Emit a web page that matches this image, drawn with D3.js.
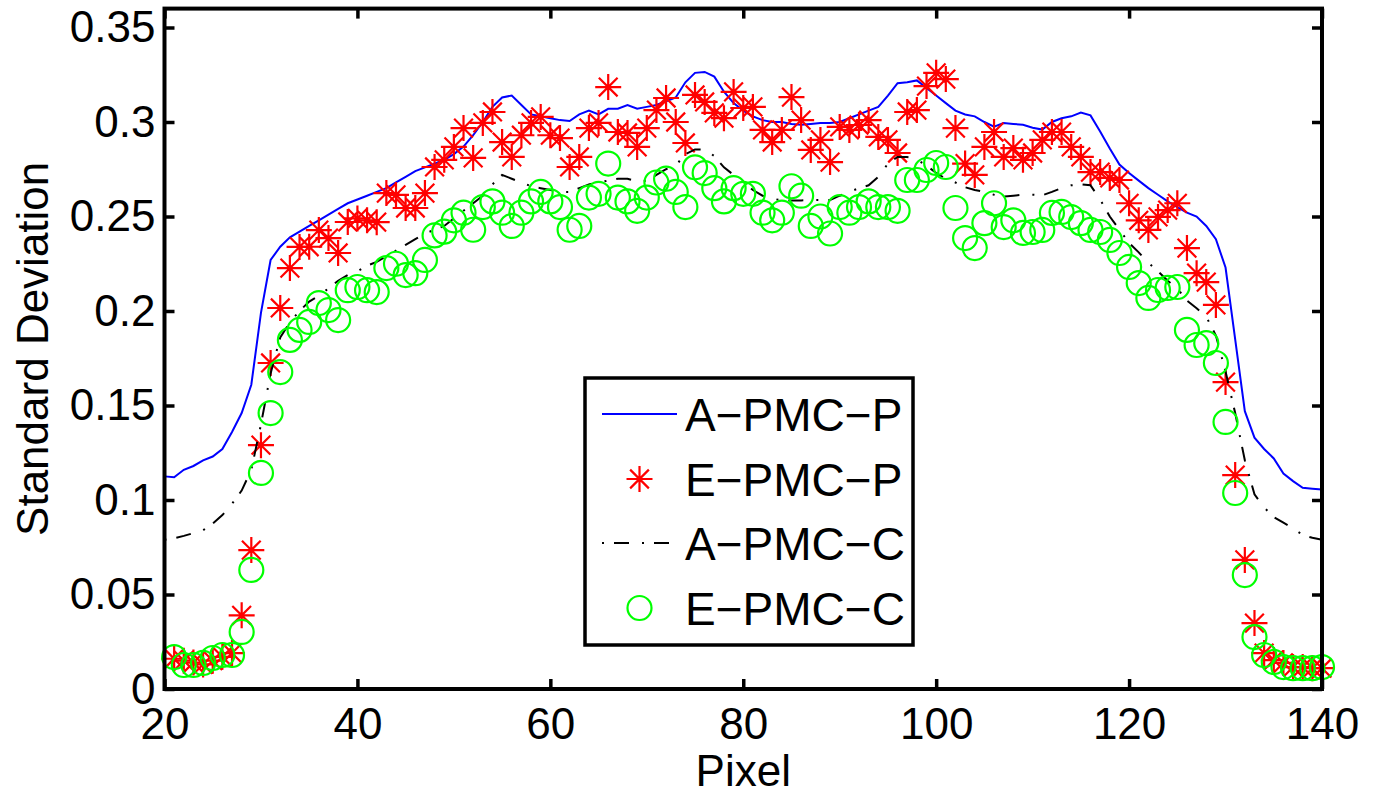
<!DOCTYPE html>
<html>
<head>
<meta charset="utf-8">
<title>Standard Deviation vs Pixel</title>
<script src="https://cdn.jsdelivr.net/npm/d3@7"></script>
<style>
  html, body { margin: 0; padding: 0; background: #fff; }
  svg { display: block; font-family: "Liberation Sans", Arial, sans-serif; }
</style>
</head>
<body>
<svg id="chart" width="1378" height="796"></svg>
<script>
// pixel positions of the analytic curves and of the measured points
var linePixels = d3.range(20, 141);
var pointPixels = d3.range(21, 141);

// A-PMC-P (blue solid)
var apmcP = [0.1125, 0.112, 0.116, 0.118, 0.121, 0.123, 0.127, 0.136, 0.146, 0.161,
  0.199, 0.227, 0.234, 0.239, 0.242, 0.245, 0.248, 0.251, 0.254, 0.257,
  0.259, 0.261, 0.263, 0.265, 0.268, 0.271, 0.274, 0.276, 0.278, 0.280,
  0.283, 0.287, 0.293, 0.300, 0.308, 0.313, 0.314, 0.309, 0.304, 0.303,
  0.302, 0.301, 0.3005, 0.304, 0.306, 0.304, 0.307, 0.307, 0.309, 0.307,
  0.308, 0.309, 0.311, 0.313, 0.321, 0.326, 0.3265, 0.324, 0.316, 0.310,
  0.306, 0.303, 0.301, 0.300, 0.300, 0.299, 0.2985, 0.299, 0.2995, 0.2995,
  0.300, 0.302, 0.304, 0.306, 0.308, 0.314, 0.3205, 0.321, 0.322, 0.318,
  0.314, 0.310, 0.306, 0.304, 0.303, 0.300, 0.2975, 0.2995, 0.299, 0.2985,
  0.297, 0.296, 0.300, 0.302, 0.303, 0.305, 0.3035, 0.295, 0.286, 0.2775,
  0.273, 0.269, 0.265, 0.2615, 0.258, 0.255, 0.252, 0.250, 0.245, 0.238,
  0.223, 0.185, 0.147, 0.133, 0.127, 0.122, 0.114, 0.110, 0.1065, 0.106,
  0.1055];

// A-PMC-C (black dash-dot)
var apmcC = [0.079, 0.0797, 0.081, 0.0825, 0.084, 0.0875, 0.092, 0.098, 0.105, 0.116,
  0.140, 0.167, 0.186, 0.194, 0.200, 0.205, 0.208, 0.212, 0.216, 0.219,
  0.221, 0.224, 0.226, 0.229, 0.232, 0.235, 0.238, 0.241, 0.243, 0.245,
  0.249, 0.253, 0.257, 0.261, 0.267, 0.272, 0.270, 0.268, 0.266, 0.265,
  0.264, 0.263, 0.263, 0.265, 0.267, 0.268, 0.269, 0.270, 0.270, 0.2685,
  0.269, 0.272, 0.275, 0.277, 0.283, 0.2855, 0.2855, 0.282, 0.276, 0.272,
  0.2685, 0.264, 0.261, 0.2595, 0.2585, 0.2585, 0.2585, 0.2587, 0.2587, 0.2587,
  0.261, 0.263, 0.265, 0.2665, 0.271, 0.278, 0.2815, 0.2815, 0.280, 0.277,
  0.273, 0.270, 0.268, 0.2655, 0.264, 0.263, 0.2615, 0.2605, 0.261, 0.2615,
  0.2615, 0.2612, 0.263, 0.265, 0.2665, 0.267, 0.2665, 0.259, 0.250, 0.243,
  0.236, 0.231, 0.2255, 0.221, 0.216, 0.212, 0.2055, 0.2015, 0.197, 0.187,
  0.168, 0.146, 0.121, 0.103, 0.096, 0.091, 0.088, 0.085, 0.0815, 0.080,
  0.079];

// E-PMC-P (red asterisks)
var epmcP = [0.016, 0.015, 0.014, 0.013, 0.015, 0.017, 0.019, 0.039, 0.0735, 0.129,
  0.1725, 0.2016, 0.2227, 0.2339, 0.234, 0.2428, 0.2386, 0.2307, 0.2471, 0.249,
  0.248, 0.247, 0.2624, 0.2614, 0.2545, 0.2545, 0.2624, 0.2762, 0.280, 0.2868,
  0.2968, 0.281, 0.2995, 0.3053, 0.2894, 0.2815, 0.293, 0.2995, 0.3027, 0.293,
  0.2915, 0.2762, 0.2815, 0.2968, 0.2995, 0.3185, 0.2947, 0.2942, 0.2868, 0.2968,
  0.3063, 0.3127, 0.300, 0.2889, 0.3143, 0.3106, 0.3048, 0.302, 0.3159, 0.3074,
  0.308, 0.2958, 0.2894, 0.2958, 0.3132, 0.301, 0.2852, 0.2905, 0.2788, 0.2974,
  0.2958, 0.2984, 0.301, 0.2921, 0.2905, 0.2836, 0.3053, 0.3063, 0.319, 0.326,
  0.3227, 0.2968, 0.278, 0.272, 0.2868, 0.2947, 0.2815, 0.2862, 0.280, 0.2836,
  0.2905, 0.2947, 0.2947, 0.2868, 0.2815, 0.2735, 0.2735, 0.2704, 0.2693, 0.257,
  0.248, 0.2429, 0.2498, 0.2534, 0.257, 0.2333, 0.220, 0.2153, 0.2032, 0.1624,
  0.1132, 0.0683, 0.0349, 0.019, 0.0153, 0.0138, 0.0116, 0.0116, 0.011, 0.011];

// E-PMC-C (green circles)
var epmcC = [0.0169, 0.0127, 0.0127, 0.0138, 0.0164, 0.018, 0.018, 0.0302, 0.063, 0.1143,
  0.146, 0.1677, 0.1847, 0.190, 0.1942, 0.2042, 0.2005, 0.1952, 0.211, 0.2127,
  0.211, 0.210, 0.2227, 0.225, 0.219, 0.220, 0.227, 0.240, 0.242, 0.248,
  0.252, 0.243, 0.255, 0.258, 0.252, 0.245, 0.252, 0.258, 0.263, 0.258,
  0.255, 0.243, 0.245, 0.260, 0.262, 0.278, 0.260, 0.258, 0.253, 0.260,
  0.268, 0.270, 0.263, 0.255, 0.276, 0.273, 0.265, 0.258, 0.265, 0.262,
  0.262, 0.252, 0.248, 0.252, 0.266, 0.261, 0.245, 0.250, 0.241, 0.255,
  0.252, 0.255, 0.258, 0.255, 0.255, 0.253, 0.2693, 0.2693, 0.2746, 0.2783,
  0.2762, 0.2545, 0.2386, 0.2333, 0.2465, 0.257, 0.2444, 0.248, 0.2413, 0.2418,
  0.2429, 0.2519, 0.2524, 0.2497, 0.2465, 0.2429, 0.2418, 0.2376, 0.2307, 0.2233,
  0.2148, 0.2069, 0.2111, 0.2122, 0.2127, 0.190, 0.182, 0.183, 0.1725, 0.1413,
  0.1037, 0.0603, 0.0275, 0.018, 0.0143, 0.0116, 0.011, 0.011, 0.011, 0.0116];

var xTicks = [20, 40, 60, 80, 100, 120, 140];
var yTicks = [0, 0.05, 0.1, 0.15, 0.2, 0.25, 0.3, 0.35];
var yTickLabels = ["0", "0.05", "0.1", "0.15", "0.2", "0.25", "0.3", "0.35"];
var legendNames = ["A\u2212PMC\u2212P", "E\u2212PMC\u2212P", "A\u2212PMC\u2212C", "E\u2212PMC\u2212C"];

(function() {
var svg = d3.select("#chart");
var pLeft = 164.5, pRight = 1322, pTop = 8.6, pBottom = 689;

var x = d3.scaleLinear().domain([20, 140]).range([pLeft, pRight]);
var y = d3.scaleLinear().domain([0, 0.36]).range([pBottom, pTop]);

var FONT = 44;
var LEGEND_FONT = 46;
var DASHDOT = "2,10,15,13";
var STAR_R = 13, CIRCLE_R = 12;

// curves
var line = d3.line().x(function(d) { return x(d[0]); }).y(function(d) { return y(d[1]); });

svg.append("path")
  .datum(d3.zip(linePixels, apmcP))
  .attr("d", line)
  .attr("fill", "none")
  .attr("stroke", "#0000ff")
  .attr("stroke-width", 2);

// asterisk marker path (plus + cross)
function asterisk(cx, cy, r) {
  var d = r * 0.72;
  return "M" + (cx - r) + "," + cy + "H" + (cx + r) +
    "M" + cx + "," + (cy - r) + "V" + (cy + r) +
    "M" + (cx - d) + "," + (cy - d) + "L" + (cx + d) + "," + (cy + d) +
    "M" + (cx - d) + "," + (cy + d) + "L" + (cx + d) + "," + (cy - d);
}

svg.append("g").selectAll("path")
  .data(d3.zip(pointPixels, epmcP))
  .join("path")
  .attr("d", function(d) { return asterisk(x(d[0]), y(d[1]), STAR_R); })
  .attr("fill", "none")
  .attr("stroke", "#ff0000")
  .attr("stroke-width", 2.2);

svg.append("path")
  .datum(d3.zip(linePixels, apmcC))
  .attr("d", line)
  .attr("fill", "none")
  .attr("stroke", "#000")
  .attr("stroke-width", 2)
  .attr("stroke-dasharray", DASHDOT);

svg.append("g").selectAll("circle")
  .data(d3.zip(pointPixels, epmcC))
  .join("circle")
  .attr("cx", function(d) { return x(d[0]); })
  .attr("cy", function(d) { return y(d[1]); })
  .attr("r", CIRCLE_R)
  .attr("fill", "none")
  .attr("stroke", "#00ff00")
  .attr("stroke-width", 2.2);

// axes (ticks pointing inward, MATLAB box style)
function styleAxis(g) {
  g.select(".domain").remove();
  g.selectAll(".tick line").attr("stroke", "#000").attr("stroke-width", 3.5);
  g.selectAll("text").attr("font-size", FONT).attr("font-family", "Liberation Sans, Arial, sans-serif").attr("fill", "#000");
}

svg.append("g")
  .attr("transform", "translate(" + pLeft + ",0)")
  .call(d3.axisLeft(y).tickValues(yTicks).tickSize(-10).tickPadding(9)
    .tickFormat(function(d, i) { return yTickLabels[i]; }))
  .call(styleAxis);

svg.append("g")
  .attr("transform", "translate(" + pRight + ",0)")
  .call(d3.axisRight(y).tickValues(yTicks).tickSize(-10).tickFormat(""))
  .call(styleAxis);

svg.append("g")
  .attr("transform", "translate(0," + pBottom + ")")
  .call(d3.axisBottom(x).tickValues(xTicks).tickSize(-10).tickPadding(19).tickFormat(d3.format("d")))
  .call(styleAxis);

svg.append("g")
  .attr("transform", "translate(0," + pTop + ")")
  .call(d3.axisTop(x).tickValues(xTicks).tickSize(-10).tickFormat(""))
  .call(styleAxis);

svg.append("rect")
  .attr("x", pLeft).attr("y", pTop)
  .attr("width", pRight - pLeft).attr("height", pBottom - pTop)
  .attr("fill", "none")
  .attr("stroke", "#000")
  .attr("stroke-width", 4);

// axis titles
svg.append("text")
  .attr("x", (pLeft + pRight) / 2)
  .attr("y", 786)
  .attr("text-anchor", "middle")
  .attr("font-size", FONT)
  .text("Pixel");

svg.append("text")
  .attr("transform", "translate(48," + (pTop + pBottom) / 2 + ") rotate(-90)")
  .attr("text-anchor", "middle")
  .attr("font-size", FONT)
  .text("Standard Deviation");

// legend
var legend = svg.append("g");
legend.append("rect")
  .attr("x", 585).attr("y", 378)
  .attr("width", 328).attr("height", 267)
  .attr("fill", "#fff")
  .attr("stroke", "#000")
  .attr("stroke-width", 3.5);

var rowY = [414, 479, 543, 608];
var sx0 = 602, sx1 = 677, sxm = (sx0 + sx1) / 2;

legend.append("line")
  .attr("x1", sx0).attr("x2", sx1).attr("y1", rowY[0]).attr("y2", rowY[0])
  .attr("stroke", "#0000ff").attr("stroke-width", 2);
legend.append("path")
  .attr("d", asterisk(sxm, rowY[1], STAR_R))
  .attr("fill", "none").attr("stroke", "#ff0000").attr("stroke-width", 2.2);
legend.append("line")
  .attr("x1", sx0).attr("x2", sx1).attr("y1", rowY[2]).attr("y2", rowY[2])
  .attr("stroke", "#000").attr("stroke-width", 2).attr("stroke-dasharray", DASHDOT);
legend.append("circle")
  .attr("cx", sxm).attr("cy", rowY[3]).attr("r", CIRCLE_R)
  .attr("fill", "none").attr("stroke", "#00ff00").attr("stroke-width", 2.2);

legend.selectAll("text.lbl")
  .data(legendNames)
  .join("text")
  .attr("class", "lbl")
  .attr("x", 685)
  .attr("y", function(d, i) { return rowY[i]; })
  .attr("dy", "0.36em")
  .attr("font-size", LEGEND_FONT)
  .text(function(d) { return d; });
})();
</script>
</body>
</html>
